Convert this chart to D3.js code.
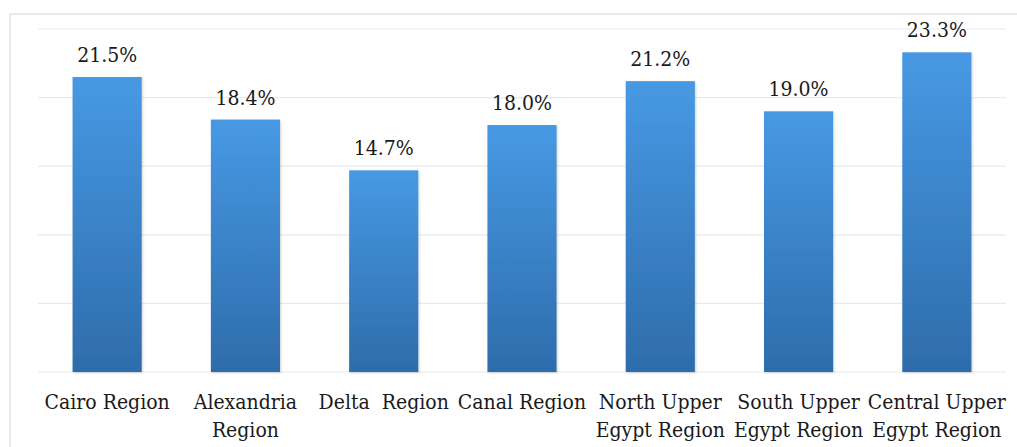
<!DOCTYPE html>
<html>
<head>
<meta charset="utf-8">
<script src="https://cdn.jsdelivr.net/npm/d3@7"></script>
<style>
  html, body { margin: 0; padding: 0; background: #fff; }
  svg { display: block; }
</style>
</head>
<body>
<svg id="chart" width="1017" height="447"></svg>
<script>
// Share by region (%)
const categories = [
  ["Cairo Region"],
  ["Alexandria", "Region"],
  ["Delta  Region"],
  ["Canal Region"],
  ["North Upper", "Egypt Region"],
  ["South Upper", "Egypt Region"],
  ["Central Upper", "Egypt Region"]
];
const values = [21.5, 18.4, 14.7, 18.0, 21.2, 19.0, 23.3];
const gridTicks = [0, 5, 10, 15, 20, 25];

const FONT = "'DejaVu Serif Condensed', 'DejaVu Serif', serif";

const svg = d3.select("#chart");
const W = 1017, H = 447;
const plot = { left: 38, right: 1006, top: 29, bottom: 372 };

// outer frame (top and left edges visible)
svg.append("line").attr("x1", 10).attr("x2", W).attr("y1", 14).attr("y2", 14)
  .attr("stroke", "#dde3ec").attr("stroke-width", 1.5);
svg.append("line").attr("x1", 10).attr("x2", 10).attr("y1", 14).attr("y2", H)
  .attr("stroke", "#dde3ec").attr("stroke-width", 1.5);

const x = d3.scaleBand()
  .domain(d3.range(categories.length))
  .range([plot.left, plot.right])
  .paddingInner(0.5).paddingOuter(0.25);

const y = d3.scaleLinear().domain([0, 25]).range([plot.bottom, plot.top]);

// gradient fill for bars
const defs = svg.append("defs");
const grad = defs.append("linearGradient").attr("id", "barFill")
  .attr("x1", 0).attr("y1", 0).attr("x2", 0).attr("y2", 1);
grad.append("stop").attr("offset", "0%").attr("stop-color", "#4799e4");
grad.append("stop").attr("offset", "100%").attr("stop-color", "#2e6cab");

const shadow = defs.append("filter").attr("id", "barShadow")
  .attr("x", "-10%").attr("y", "-10%").attr("width", "130%").attr("height", "130%");
shadow.append("feDropShadow").attr("dx", 1).attr("dy", 1).attr("stdDeviation", 1.2)
  .attr("flood-color", "#000").attr("flood-opacity", 0.18);

// gridlines
svg.append("g").selectAll("line").data(gridTicks).join("line")
  .attr("x1", plot.left).attr("x2", plot.right)
  .attr("y1", d => y(d)).attr("y2", d => y(d))
  .attr("stroke", "#e6ebf1").attr("stroke-width", 1.2);

// bars
svg.append("g").selectAll("rect").data(values).join("rect")
  .attr("x", (d, i) => x(i))
  .attr("width", x.bandwidth())
  .attr("y", d => y(d))
  .attr("height", d => y(0) - y(d))
  .attr("fill", "url(#barFill)")
  .attr("filter", "url(#barShadow)");

// value labels
svg.append("g").selectAll("text").data(values).join("text")
  .attr("x", (d, i) => x(i) + x.bandwidth() / 2)
  .attr("y", d => y(d) - 15)
  .attr("text-anchor", "middle")
  .attr("font-family", FONT)
  .attr("font-stretch", "condensed")
  .attr("font-size", 21)
  .attr("fill", "#1a1a1a")
  .text(d => d.toFixed(1) + "%");

// category labels
const cat = svg.append("g").selectAll("text").data(categories).join("text")
  .attr("x", (d, i) => x(i) + x.bandwidth() / 2)
  .attr("y", 409)
  .attr("text-anchor", "middle")
  .attr("font-family", FONT)
  .attr("font-stretch", "condensed")
  .attr("font-size", 21)
  .attr("fill", "#1a1a1a")
  .attr("xml:space", "preserve")
  .style("white-space", "pre");
cat.each(function(lines) {
  const t = d3.select(this);
  const cx = t.attr("x");
  lines.forEach((ln, k) => {
    t.append("tspan").attr("x", cx).attr("dy", k === 0 ? 0 : 28).text(ln);
  });
});
</script>
</body>
</html>
